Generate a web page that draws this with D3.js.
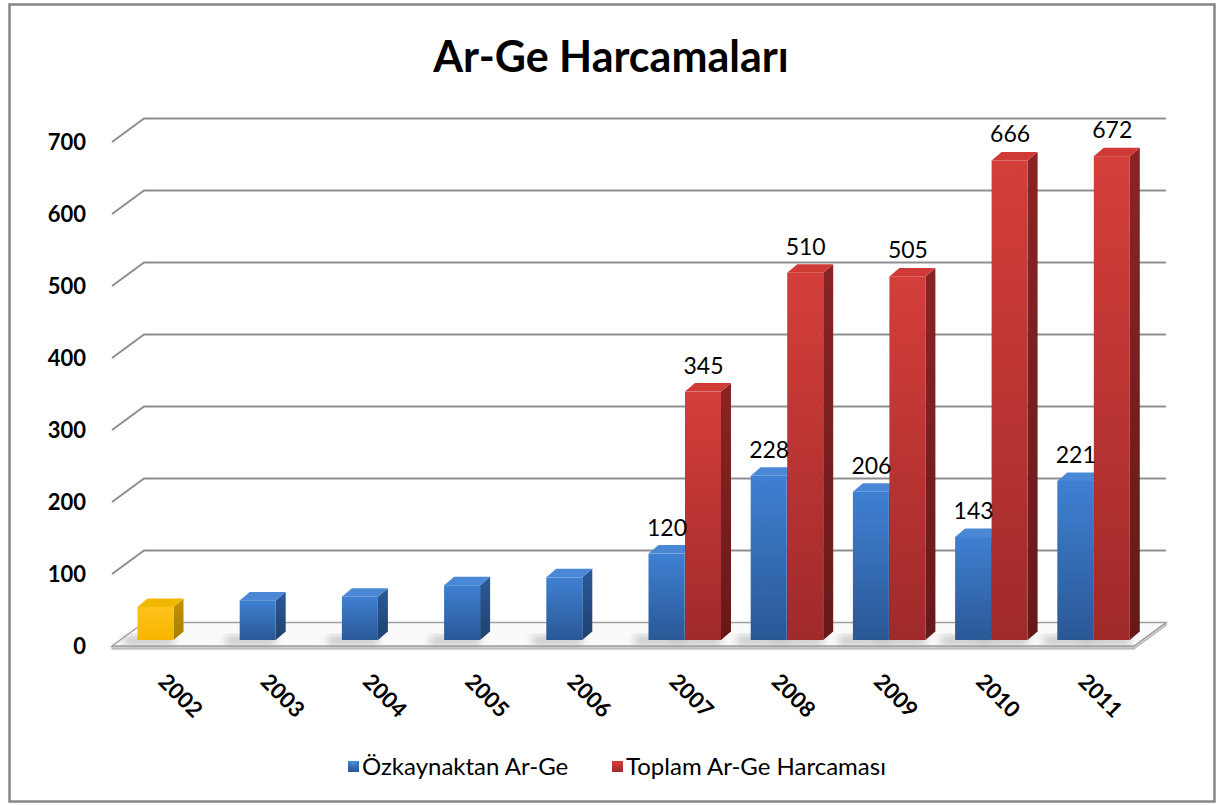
<!DOCTYPE html>
<html>
<head>
<meta charset="utf-8">
<script src="https://cdn.jsdelivr.net/npm/d3@7/dist/d3.min.js"></script>
<style>
  html, body { margin: 0; padding: 0; background: #fff; }
  svg { display: block; }
</style>
</head>
<body>
<svg id="chart" width="1217" height="805"></svg>
<script>
// ---- data ----
const years = ["2002","2003","2004","2005","2006","2007","2008","2009","2010","2011"];
const ozkaynak = [46, 55, 60, 76, 87, 120, 228, 206, 143, 221];
const toplam = [null, null, null, null, null, 345, 510, 505, 666, 672];
const yTicks = [0, 100, 200, 300, 400, 500, 600, 700];
const seriesNames = ["Özkaynaktan Ar-Ge", "Toplam Ar-Ge Harcaması"];
const title = "Ar-Ge Harcamaları";

// ---- layout ----
const W = 1217, H = 805;
const FONT = "Lato, 'Open Sans', 'DejaVu Sans', sans-serif";
const svg = d3.select("#chart");
const plotLeft = 112, plotRight = 1134;
const floorFront = 646;
const depthX = 32, depthY = -23.5;
const barDX = 10, barDY = -8.5;

const x = d3.scaleBand().domain(years).range([plotLeft, plotRight]).padding(0);
const sub = d3.scaleBand().domain(seriesNames).range([25.5, 25.5 + 73]).padding(0);
const yGrid = d3.scaleLinear().domain([0, 700]).range([floorFront, floorFront - 504]);
const yBar = d3.scaleLinear().domain([0, 700]).range([640, 640 - 504]);

const defs = svg.append("defs");
function vgrad(id, c1, c2) {
  const g = defs.append("linearGradient").attr("id", id).attr("x1", 0).attr("y1", 0).attr("x2", 0).attr("y2", 1);
  g.append("stop").attr("offset", "0%").attr("stop-color", c1);
  g.append("stop").attr("offset", "100%").attr("stop-color", c2);
}
vgrad("blueFront", "#3f80d2", "#2a5896");
vgrad("redFront", "#d43e3b", "#a02a2a");
vgrad("goldFront", "#ffc21a", "#f7b500");
vgrad("blueSide", "#2a5a9a", "#1f416f");
vgrad("redSide", "#8a2424", "#661919");
vgrad("goldSide", "#c49300", "#a67d00");
const blur = defs.append("filter").attr("id", "shadowBlur").attr("x", "-50%").attr("y", "-50%").attr("width", "200%").attr("height", "200%");
blur.append("feGaussianBlur").attr("stdDeviation", 4);

const palette = {
  blue: { front: "url(#blueFront)", side: "url(#blueSide)", top: "#4a88d6" },
  red: { front: "url(#redFront)", side: "url(#redSide)", top: "#cf3a36" },
  gold: { front: "url(#goldFront)", side: "url(#goldSide)", top: "#f2b800" }
};

// background + border
svg.append("rect").attr("width", W).attr("height", H).attr("fill", "#fff");
svg.append("rect").attr("x", 9.5).attr("y", 4.5).attr("width", 1205).attr("height", 797)
  .attr("fill", "none").attr("stroke", "#878787").attr("stroke-width", 2.5);

// title
svg.append("text").attr("x", 611).attr("y", 72).attr("text-anchor", "middle")
  .attr("font-family", FONT).attr("font-weight", "bold").attr("font-size", 43)
  .attr("fill", "#000").text(title);

// floor
const floorBack = floorFront + depthY;
svg.append("path")
  .attr("d", `M${plotLeft},${floorFront + 3} L${plotRight},${floorFront + 3} L${plotRight + depthX},${floorBack + 3} L${plotRight + depthX},${floorBack} L${plotRight},${floorFront} L${plotLeft},${floorFront} Z`)
  .attr("fill", "#d0d0d0").attr("stroke", "#a6a6a6").attr("stroke-width", 1);
svg.append("path")
  .attr("d", `M${plotLeft},${floorFront} L${plotLeft + depthX},${floorBack} L${plotRight + depthX},${floorBack} L${plotRight},${floorFront} Z`)
  .attr("fill", "#fafafa").attr("stroke", "#a0a0a0").attr("stroke-width", 1.5);

// gridlines (back wall)
const grid = svg.append("g");
yTicks.filter(v => v > 0).forEach(v => {
  const yf = yGrid(v);
  grid.append("path")
    .attr("d", `M${plotLeft},${yf} L${plotLeft + depthX},${yf + depthY} L${plotRight + depthX},${yf + depthY}`)
    .attr("fill", "none").attr("stroke", "#8f8f8f").attr("stroke-width", 2);
});

// y axis labels
svg.append("g").selectAll("text").data(yTicks).join("text")
  .attr("x", 86).attr("y", d => yGrid(d)).attr("dy", "0.36em")
  .attr("text-anchor", "end").attr("font-family", FONT).attr("font-weight", "bold")
  .attr("font-size", 22).attr("fill", "#000").text(d => d);

// x axis labels
svg.append("g").selectAll("text").data(years).join("text")
  .attr("transform", d => `translate(${x(d) + x.bandwidth() / 2 - 6},683) rotate(45)`)
  .attr("text-anchor", "start").attr("font-family", FONT).attr("font-weight", "bold")
  .attr("font-size", 22).attr("fill", "#000").text(d => d);

// bars
const bars = [];
years.forEach((yr, i) => {
  if (ozkaynak[i] != null) bars.push({ yr, s: seriesNames[0], v: ozkaynak[i], col: i === 0 ? "gold" : "blue", label: toplam[i] != null });
  if (toplam[i] != null) bars.push({ yr, s: seriesNames[1], v: toplam[i], col: "red", label: true });
});
const bw = sub.bandwidth() - 0.5;

// shadows
svg.append("g").attr("filter", "url(#shadowBlur)").selectAll("rect").data(bars).join("rect")
  .attr("x", d => x(d.yr) + sub(d.s) - 14).attr("y", yBar(0) - 3)
  .attr("width", bw + 14).attr("height", 7)
  .attr("fill", "#9a9a9a").attr("opacity", 0.7);

const bg = svg.append("g");
bars.forEach(d => {
  const x0 = x(d.yr) + sub(d.s), x1 = x0 + bw;
  const yT = yBar(d.v), yB = yBar(0);
  const p = palette[d.col];
  const g = bg.append("g");
  g.append("path").attr("d", `M${x1},${yT} L${x1 + barDX},${yT + barDY} L${x1 + barDX},${yB + barDY} L${x1},${yB} Z`)
    .attr("fill", p.side);
  g.append("path").attr("d", `M${x0},${yT} L${x1},${yT} L${x1 + barDX},${yT + barDY} L${x0 + barDX},${yT + barDY} Z`)
    .attr("fill", p.top);
  g.append("rect").attr("x", x0).attr("y", yT).attr("width", bw).attr("height", yB - yT)
    .attr("fill", p.front);
});

// data labels
svg.append("g").selectAll("text").data(bars.filter(d => d.label)).join("text")
  .attr("x", d => x(d.yr) + sub(d.s) + bw / 2 + 0.5).attr("y", d => yBar(d.v) - 18)
  .attr("text-anchor", "middle").attr("font-family", FONT).attr("font-size", 23)
  .attr("fill", "#000").text(d => d.v);

// legend
const legend = [
  { name: seriesNames[0], col: "blue", mx: 348, tx: 362 },
  { name: seriesNames[1], col: "red", mx: 612, tx: 626 }
];
const lg = svg.append("g");
legend.forEach(l => {
  lg.append("rect").attr("x", l.mx).attr("y", 761).attr("width", 11).attr("height", 11)
    .attr("fill", palette[l.col].front);
  lg.append("path").attr("d", `M${l.mx},761 L${l.mx + 11},761 L${l.mx + 5.5},766 Z`).attr("fill", palette[l.col].top).attr("opacity", 0.9);
  lg.append("text").attr("x", l.tx).attr("y", 775).attr("font-family", FONT).attr("font-size", 24)
    .attr("fill", "#000").text(l.name);
});
</script>
</body>
</html>
